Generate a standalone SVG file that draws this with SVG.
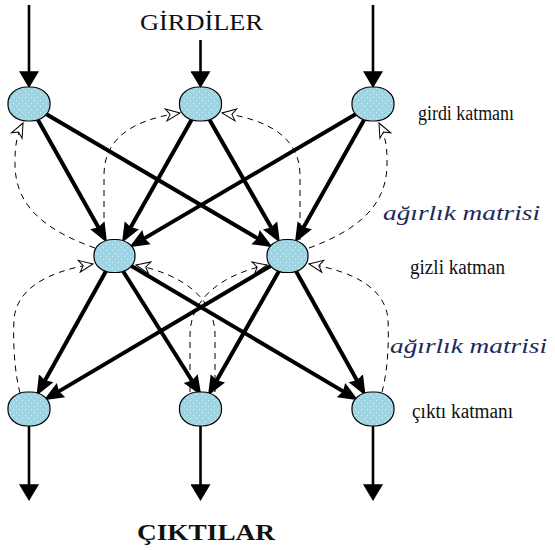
<svg xmlns="http://www.w3.org/2000/svg" width="555" height="550" viewBox="0 0 555 550">
<style>
.node rect{fill:url(#dots);stroke:#000;stroke-width:1.2}
.thick{stroke:#000;stroke-width:4;fill:none;marker-end:url(#ah)}
.io{stroke:#000;stroke-width:2.6;fill:none;marker-end:url(#ah2)}
.dash{stroke:#000;stroke-width:1;fill:none;stroke-dasharray:6,5;marker-end:url(#oh)}
.lbl{font-family:"Liberation Serif","Times New Roman",serif;fill:#111}
.it{font-family:"Liberation Serif","Times New Roman",serif;font-style:italic;fill:#1c2a5c}
</style>
<defs>
<pattern id="dots" width="6" height="6" patternUnits="userSpaceOnUse">
<rect width="6" height="6" fill="#9dd3e3"/>
<circle cx="1.5" cy="1.5" r="0.7" fill="#c9f3ee"/>
<circle cx="4.5" cy="4.5" r="0.7" fill="#c9f3ee"/>
</pattern>
<marker id="ah" markerUnits="userSpaceOnUse" markerWidth="20" markerHeight="20" viewBox="0 0 17 14" refX="8" refY="7" orient="auto">
<path d="M0,0 L17,7 L0,14 L2,7 z" fill="#000"/>
</marker>
<marker id="ah2" markerUnits="userSpaceOnUse" markerWidth="20" markerHeight="20" viewBox="0 0 15 18" refX="6" refY="9" orient="auto">
<path d="M0,0 L15,9 L0,18 z" fill="#000"/>
</marker>
<marker id="oh" markerUnits="userSpaceOnUse" markerWidth="18" markerHeight="14" viewBox="-1 -1 16 14" refX="14" refY="6" orient="auto">
<path d="M0,0 L14,6 L0,12 L4,6 z" fill="#fff" stroke="#000" stroke-width="1"/>
</marker>
</defs>
<g id="connectors">
<line class="io" x1="29" y1="5" x2="29" y2="78"/>
<line class="io" x1="200.5" y1="40" x2="200.5" y2="78"/>
<line class="io" x1="373" y1="5" x2="373" y2="78"/>
<line class="thick" x1="37.7" y1="119.5" x2="101.9" y2="233.5"/>
<line class="thick" x1="46" y1="114" x2="263.6" y2="241.9"/>
<line class="thick" x1="191.75" y1="119.5" x2="127.2" y2="233.5"/>
<line class="thick" x1="209.35" y1="119.5" x2="274.7" y2="233.5"/>
<line class="thick" x1="356" y1="114" x2="138.4" y2="241.9"/>
<line class="thick" x1="364.3" y1="119.5" x2="300.1" y2="233.5"/>
<line class="thick" x1="105.8" y1="271.5" x2="41.6" y2="386.5"/>
<line class="thick" x1="123.25" y1="271.5" x2="195.7" y2="386.5"/>
<line class="thick" x1="131.5" y1="266" x2="349.1" y2="394.9"/>
<line class="thick" x1="270.5" y1="266" x2="52.9" y2="394.9"/>
<line class="thick" x1="278.75" y1="271.5" x2="213.2" y2="386.5"/>
<line class="thick" x1="296.2" y1="271.5" x2="360.4" y2="386.5"/>
<line class="io" x1="29" y1="426" x2="29" y2="491"/>
<line class="io" x1="200.5" y1="426" x2="200.5" y2="491"/>
<line class="io" x1="373" y1="426" x2="373" y2="491"/>
<path class="dash" d="M95,248 C30,225 14,195 15,160 C15,145 17,135 23,123"/>
<path class="dash" d="M104,240 L104,175 C104,140 130,120 180,113"/>
<path class="dash" d="M300,240 L300,175 C300,140 272,120 222,113"/>
<path class="dash" d="M309,248 C372,225 388,195 387,160 C387,145 385,135 379,123"/>
<path class="dash" d="M20,393 C14,370 13,340 14,320 C16,290 45,272 93,264"/>
<path class="dash" d="M190,392 L190,335 C190,300 220,275 267,265"/>
<path class="dash" d="M215,392 L215,335 C215,300 185,275 136,265"/>
<path class="dash" d="M382,392 C388,370 389,340 388,320 C386,290 357,272 309,264"/>
</g>
<g id="in1" class="node"><rect x="8" y="87" width="42" height="34" rx="19" ry="16"/></g>
<g id="in2" class="node"><rect x="179.5" y="87" width="42" height="34" rx="19" ry="16"/></g>
<g id="in3" class="node"><rect x="352" y="87" width="42" height="34" rx="19" ry="16"/></g>
<g id="hid1" class="node"><rect x="94" y="239.5" width="41" height="33" rx="19" ry="15.5"/></g>
<g id="hid2" class="node"><rect x="267" y="239.5" width="41" height="33" rx="19" ry="15.5"/></g>
<g id="out1" class="node"><rect x="8" y="392" width="42" height="34" rx="19" ry="16"/></g>
<g id="out2" class="node"><rect x="179.5" y="392" width="42" height="34" rx="19" ry="16"/></g>
<g id="out3" class="node"><rect x="352" y="392" width="42" height="34" rx="19" ry="16"/></g>
<g id="labels">
<text class="lbl" x="140" y="30" font-size="24" textLength="123" lengthAdjust="spacingAndGlyphs">GİRDİLER</text>
<text class="lbl" x="418" y="120" font-size="20" textLength="96" lengthAdjust="spacingAndGlyphs">girdi katmanı</text>
<text class="it" x="383" y="220" font-size="20" textLength="157" lengthAdjust="spacingAndGlyphs">ağırlık matrisi</text>
<text class="lbl" x="410" y="274" font-size="20" textLength="95" lengthAdjust="spacingAndGlyphs">gizli katman</text>
<text class="it" x="390" y="353" font-size="20" textLength="157" lengthAdjust="spacingAndGlyphs">ağırlık matrisi</text>
<text class="lbl" x="412" y="418" font-size="20" textLength="101" lengthAdjust="spacingAndGlyphs">çıktı katmanı</text>
<text class="lbl" x="137" y="540" font-size="24" font-weight="bold" textLength="138" lengthAdjust="spacingAndGlyphs">ÇIKTILAR</text>
</g>
</svg>
